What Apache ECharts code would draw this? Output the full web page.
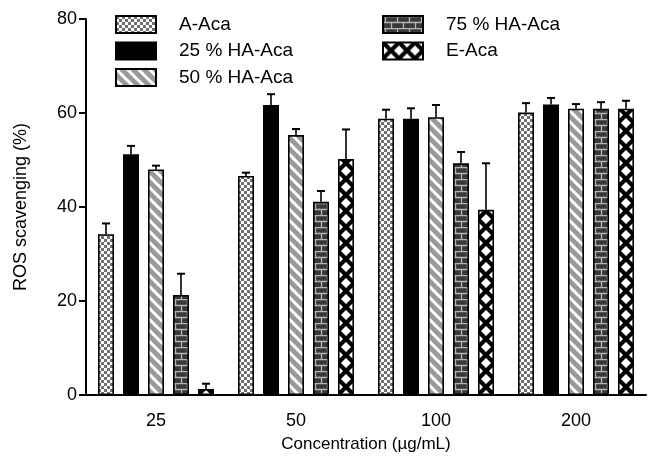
<!DOCTYPE html>
<html>
<head>
<meta charset="utf-8">
<script src="https://cdn.jsdelivr.net/npm/echarts@6/dist/echarts.min.js"></script>
<style>
html,body{margin:0;padding:0;background:#fff;}
#chart{width:650px;height:458px;}
</style>
</head>
<body>
<div id="chart"></div>
<script>
// ---- data ----
const categories = ['25', '50', '100', '200'];
const seriesNames = ['A-Aca', '25 % HA-Aca', '50 % HA-Aca', '75 % HA-Aca', 'E-Aca'];
const aAca      = [34.2, 46.6, 58.8, 60.1];
const ha25      = [51.2, 61.7, 58.8, 61.8];
const ha50      = [48.0, 55.3, 59.1, 60.9];
const ha75      = [21.3, 41.1, 49.3, 60.9];
const eAca      = [1.3, 50.2, 39.4, 60.9];
const aAcaErr   = [2.3, 0.7, 1.9, 2.0];
const ha25Err   = [1.8, 2.3, 2.2, 1.4];
const ha50Err   = [0.8, 1.3, 2.6, 1.0];
const ha75Err   = [4.5, 2.3, 2.4, 1.4];
const eAcaErr   = [1.1, 6.3, 9.9, 1.7];
const yTicks = [0, 20, 40, 60, 80];

const values = [aAca, ha25, ha50, ha75, eAca];
const errors = [aAcaErr, ha25Err, ha50Err, ha75Err, eAcaErr];

// ---- style ----
const BAR_W = 16, GAP = 9;
const FONT = 'Liberation Sans, Arial, Helvetica, sans-serif';

function tile(w, h, draw) {
  const c = document.createElement('canvas');
  c.width = w; c.height = h;
  const ctx = c.getContext('2d');
  draw(ctx, w, h);
  return c;
}
const tiles = [
  tile(6, 6, (ctx) => {
    ctx.fillStyle = '#fff'; ctx.fillRect(0, 0, 6, 6);
    ctx.fillStyle = '#707070'; ctx.fillRect(0, 0, 3, 3); ctx.fillRect(3, 3, 3, 3);
  }),
  null,
  tile(11, 11, (ctx) => {
    ctx.fillStyle = '#999999'; ctx.fillRect(0, 0, 11, 11);
    ctx.strokeStyle = '#fff'; ctx.lineWidth = 3.0;
    for (let k = -2; k <= 2; k++) {
      ctx.beginPath(); ctx.moveTo(-5 + k * 11, -5); ctx.lineTo(16 + k * 11, 16); ctx.stroke();
    }
  }),
  tile(12, 12, (ctx) => {
    ctx.fillStyle = '#383838'; ctx.fillRect(0, 0, 12, 12);
    ctx.strokeStyle = '#b4b4b4'; ctx.lineWidth = 1.3;
    ctx.beginPath();
    ctx.moveTo(0, 0.5); ctx.lineTo(12, 0.5);
    ctx.moveTo(0, 6.5); ctx.lineTo(12, 6.5);
    ctx.moveTo(2.5, 0); ctx.lineTo(2.5, 6.5);
    ctx.moveTo(8.5, 6.5); ctx.lineTo(8.5, 12);
    ctx.stroke();
  }),
  tile(16, 16, (ctx) => {
    ctx.fillStyle = '#fff'; ctx.fillRect(0, 0, 16, 16);
    ctx.strokeStyle = '#000'; ctx.lineWidth = 4.2;
    ctx.beginPath();
    ctx.moveTo(-4, -4); ctx.lineTo(20, 20);
    ctx.moveTo(20, -4); ctx.lineTo(-4, 20);
    ctx.stroke();
  })
];

function fillFor(s, x, y) {
  if (!tiles[s]) return '#000';
  return { image: tiles[s], repeat: 'repeat', x: x || 0, y: y || 0 };
}

const barSeries = seriesNames.map((name, s) => ({
  name: name,
  type: 'bar',
  data: values[s],
  barWidth: BAR_W,
  barGap: (GAP / BAR_W * 100) + '%',
  itemStyle: { color: fillFor(s), borderColor: '#000', borderWidth: 1.6 },
  emphasis: { disabled: true },
  z: 2
}));

const errSeries = seriesNames.map((name, s) => ({
  type: 'custom',
  name: 'err' + s,
  data: values[s].map((v, j) => [j, v, errors[s][j]]),
  z: 3,
  silent: true,
  renderItem: function (params, api) {
    const c = api.value(0), v = api.value(1), e = api.value(2);
    const p0 = api.coord([c, v]);
    const p1 = api.coord([c, v + e]);
    const x = p0[0] + (s - 2) * (BAR_W + GAP);
    return {
      type: 'group',
      children: [
        { type: 'line', shape: { x1: x, y1: p0[1], x2: x, y2: p1[1] }, style: { stroke: '#000', lineWidth: 1.6 } },
        { type: 'line', shape: { x1: x - 4, y1: p1[1], x2: x + 4, y2: p1[1] }, style: { stroke: '#000', lineWidth: 2 } }
      ]
    };
  }
}));

const legendBase = {
  orient: 'vertical',
  top: 15,
  padding: 0,
  icon: 'rect',
  itemWidth: 40,
  itemHeight: 17,
  itemGap: 7.5,
  selectedMode: false,
  textStyle: { fontFamily: FONT, fontSize: 19, lineHeight: 17, color: '#000', padding: [0, 0, 0, 18] }
};

const option = {
  animation: false,
  backgroundColor: '#fff',
  grid: { left: 86, right: 4, top: 19, bottom: 62 },
  legend: [
    Object.assign({}, legendBase, { left: 115, data: seriesNames.slice(0, 3) }),
    Object.assign({}, legendBase, { left: 382, data: seriesNames.slice(3) })
  ],
  xAxis: {
    type: 'category',
    data: categories,
    name: 'Concentration (µg/mL)',
    nameLocation: 'middle',
    nameGap: 41,
    nameTextStyle: { fontFamily: FONT, fontSize: 17, color: '#000' },
    axisLine: { lineStyle: { color: '#000', width: 2 } },
    axisTick: { alignWithLabel: true, length: 7, lineStyle: { color: '#000', width: 2 } },
    axisLabel: { fontFamily: FONT, fontSize: 18, color: '#000', margin: 17 }
  },
  yAxis: {
    type: 'value',
    min: yTicks[0],
    max: yTicks[yTicks.length - 1],
    interval: yTicks[1] - yTicks[0],
    name: 'ROS scavenging (%)',
    nameLocation: 'middle',
    nameGap: 56,
    nameTextStyle: { fontFamily: FONT, fontSize: 18, color: '#000' },
    axisLine: { show: true, lineStyle: { color: '#000', width: 2 } },
    axisTick: { show: true, length: 7, lineStyle: { color: '#000', width: 2 } },
    axisLabel: { fontFamily: FONT, fontSize: 18, color: '#000', margin: 9 },
    splitLine: { show: false }
  },
  series: barSeries.concat(errSeries)
};

const chart = echarts.init(document.getElementById('chart'), null, { renderer: 'canvas' });
chart.setOption(option);

// align each bar's pattern to its own rectangle (positions come from the library's layout)
try {
  const model = chart.getModel();
  const updates = [];
  for (let s = 0; s < seriesNames.length; s++) {
    const d = model.getSeriesByIndex(s).getData();
    updates.push({
      data: values[s].map((v, j) => {
        const l = d.getItemLayout(j);
        return { value: v, itemStyle: { color: fillFor(s, l ? l.x : 0, l ? l.y : 0) } };
      })
    });
  }
  chart.setOption({ series: updates });
} catch (e) { }
</script>
</body>
</html>
